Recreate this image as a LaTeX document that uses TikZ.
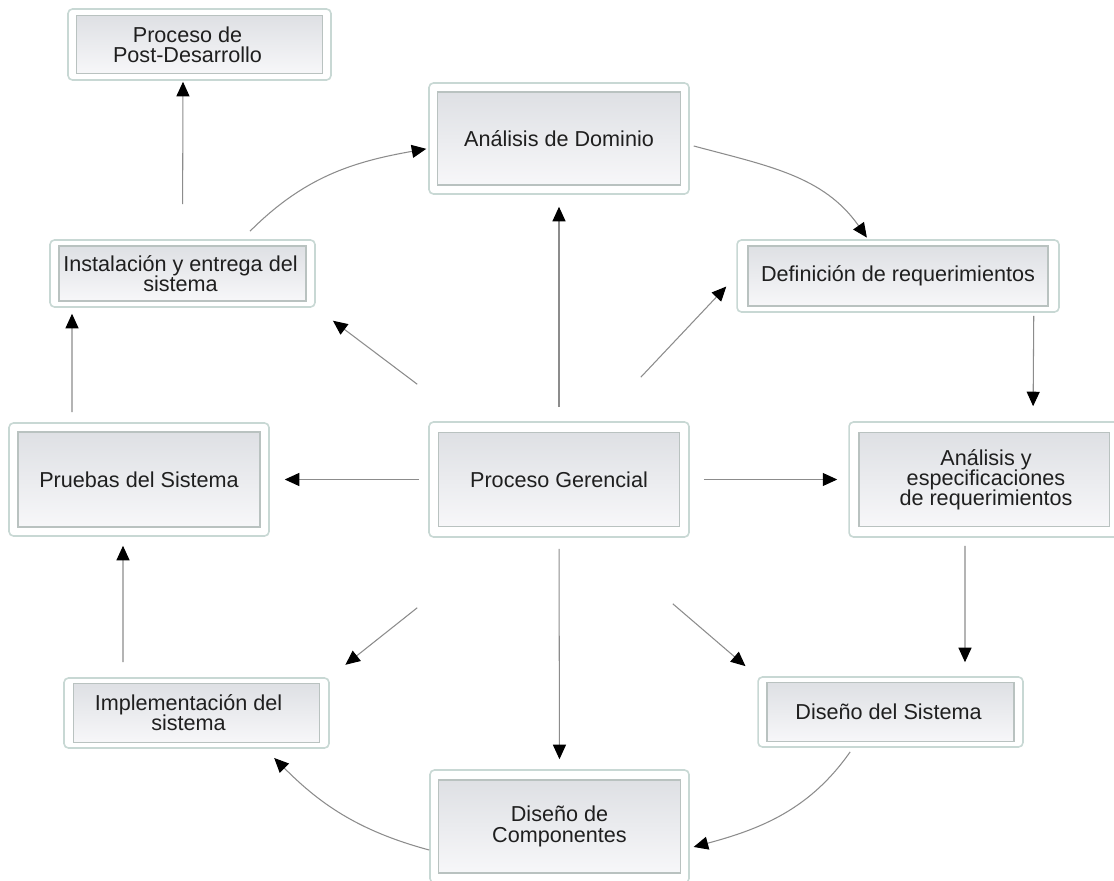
\documentclass[tikz,border=0pt]{standalone}
\usepackage{fontspec}
\setmainfont{Liberation Sans}
\usetikzlibrary{arrows.meta}
\definecolor{marcoborde}{RGB}{200,216,212}
\definecolor{cajaborde}{RGB}{185,194,192}
\definecolor{cajaarriba}{RGB}{222,224,228}
\definecolor{cajaabajo}{RGB}{247,247,249}
\definecolor{linea}{RGB}{140,140,140}
\tikzset{
  marco/.style={draw=marcoborde, line width=0.9pt, rounded corners=2.5pt, fill=white, inner sep=0pt},
  caja/.style={draw=cajaborde, line width=1.1pt, top color=cajaarriba, bottom color=cajaabajo, inner sep=0pt},
  texto/.style={align=center, text=black!88, font=\fontsize{12.3}{11.5}\selectfont},
  flecha/.style={draw=linea, line width=0.6pt, -{Triangle[length=0.29cm,width=0.26cm,color=black]}}
}
\begin{document}
\begin{tikzpicture}[x=0.02cm, y=-0.02cm]
    \useasboundingbox[fill=white] (0,0) rectangle (1114,881);
    % Cajas
    \foreach \nom/\x/\y/\ow/\oh/\iw/\ih/\dx/\txt in {
        post/199.5/44.5/5.26cm/1.42cm/4.92cm/1.16cm/-12/{Proceso de\\Post-Desarrollo},
        dom/559/138.5/5.2cm/2.22cm/4.86cm/1.86cm/0/{Análisis de Dominio},
        defi/898/276/6.44cm/1.44cm/6.0cm/1.2cm/0/{Definición de requerimientos},
        inst/182.5/273.5/5.3cm/1.34cm/4.94cm/1.1cm/-2/{Instalación y entrega del\\sistema},
        prue/139/479.5/5.2cm/2.26cm/4.84cm/1.9cm/0/{Pruebas del Sistema},
        ger/559/479.5/5.2cm/2.3cm/4.82cm/1.88cm/0/{Proceso Gerencial},
        anesp/984/479.5/5.4cm/2.3cm/5.02cm/1.88cm/2/{Análisis y\\especificaciones\\de requerimientos},
        impl/196.5/713/5.3cm/1.4cm/4.92cm/1.18cm/-8/{Implementación del\\sistema},
        dsis/890.5/712/5.3cm/1.4cm/4.94cm/1.18cm/-2/{Diseño del Sistema},
        dcomp/559.5/826.5/5.18cm/2.26cm/4.84cm/1.86cm/0/{Diseño de\\Componentes}}
    {
        \node[marco, minimum width=\ow, minimum height=\oh] (\nom) at (\x,\y) {};
        \node[caja, minimum width=\iw, minimum height=\ih] at (\nom) {};
        \node[texto] at ([xshift=\dx*0.02cm]\nom.center) {\txt};
    }
    % Ciclo exterior
    \draw[flecha, shorten <=0.7cm, shorten >=0.02cm] (inst.north) -- ([xshift=-0.33cm]post.south);
    \draw[flecha, shorten >=0.04cm] ([xshift=1.35cm, yshift=0.16cm]inst.north) to[out=45, in=190] ([yshift=-0.2cm]dom.west);
    \draw[flecha, shorten >=0.04cm] ([xshift=0.08cm, yshift=-0.15cm]dom.east) to[out=-15, in=125] ([xshift=-0.6cm]defi.north);
    \draw[flecha, shorten <=0.06cm, shorten >=0.3cm] ([xshift=-0.52cm]defi.south east) -- ([xshift=0.98cm]anesp.north);
    \draw[flecha, shorten <=0.16cm, shorten >=0.28cm] ([xshift=-0.38cm]anesp.south) -- ([xshift=1.49cm]dsis.north);
    \draw[flecha, shorten <=0.1cm, shorten >=0.08cm] ([xshift=-0.75cm]dsis.south) to[out=-125, in=15] ([yshift=-0.43cm]dcomp.east);
    \draw[flecha, shorten >=0.26cm] ([yshift=-0.47cm]dcomp.west) to[out=165, in=-45] ([xshift=1.37cm]impl.south);
    \draw[flecha, shorten <=0.3cm, shorten >=0.18cm] ([xshift=-1.47cm]impl.north) -- ([xshift=-0.32cm]prue.south);
    \draw[flecha, shorten <=0.2cm, shorten >=0.12cm] ([xshift=-1.34cm]prue.north) -- ([xshift=-2.21cm]inst.south);
    % Desde el proceso gerencial
    \draw[flecha, shorten <=0.18cm, shorten >=0.3cm] (ger.west) -- (prue.east);
    \draw[flecha, shorten <=0.28cm, shorten >=0.22cm] (ger.east) -- (anesp.west);
    \draw[flecha, shorten <=0.28cm, shorten >=0.24cm] (ger.north) -- (dom.south);
    \draw[flecha, shorten <=0.22cm, shorten >=0.2cm] (ger.south) -- (dcomp.north);
    \draw[flecha, shorten >=0.29cm] ([xshift=-0.98cm, yshift=0.88cm]ger.north east) -- (defi.west);
    \draw[flecha, shorten >=0.43cm] ([xshift=-0.22cm, yshift=0.74cm]ger.north west) -- (inst.south east);
    \draw[flecha, shorten >=0.4cm] ([xshift=-0.22cm, yshift=-1.4cm]ger.south west) -- (impl.north east);
    \draw[flecha, shorten >=0.31cm] ([xshift=-0.34cm, yshift=-1.32cm]ger.south east) -- (dsis.north west);
\end{tikzpicture}
\end{document}
